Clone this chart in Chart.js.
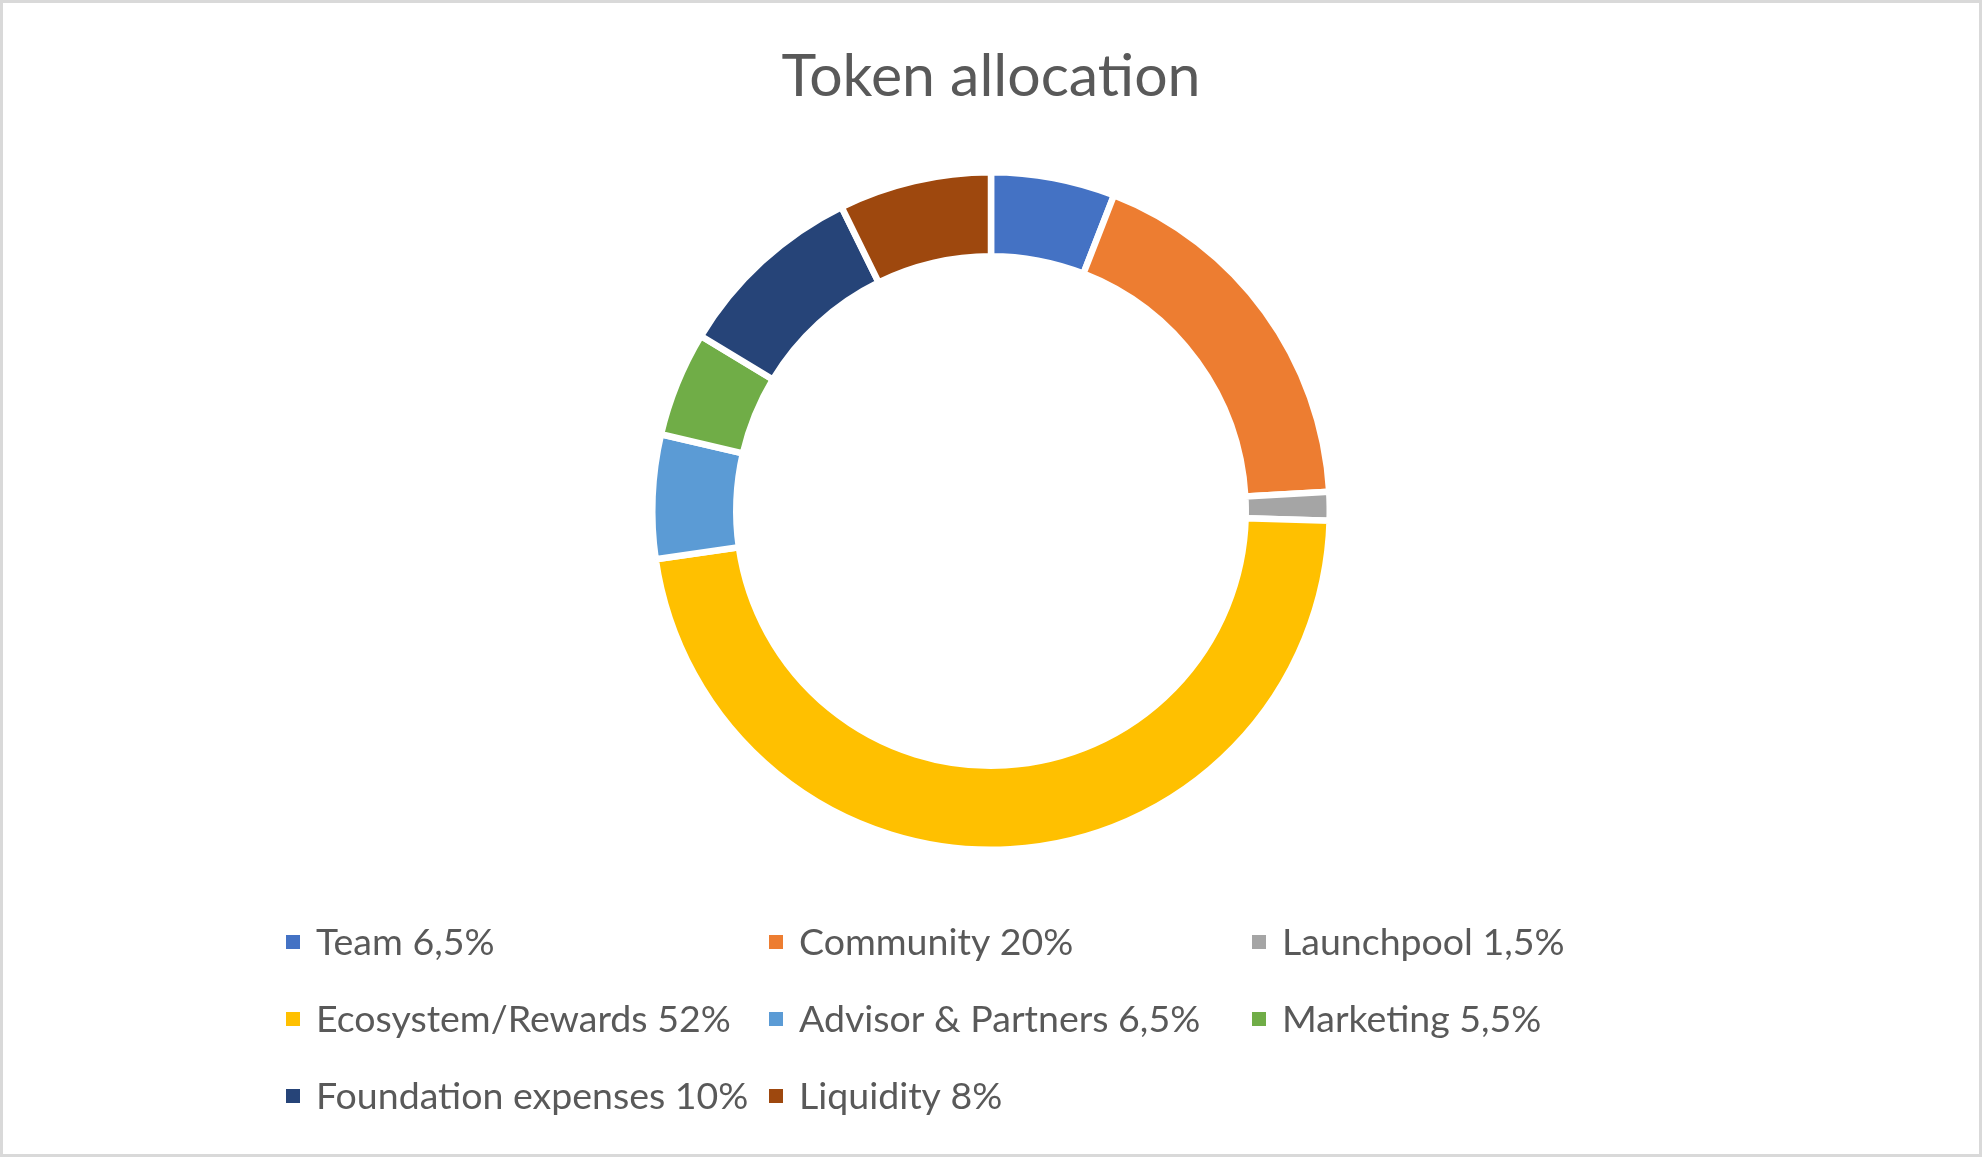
<!DOCTYPE html>
<html>
<head>
<meta charset="utf-8">
<script src="https://cdn.jsdelivr.net/npm/chart.js@4/dist/chart.umd.min.js"></script>
<style>
  html, body { margin: 0; padding: 0; background: #ffffff; }
  #wrap { position: relative; width: 1982px; height: 1157px; }
  canvas { display: block; }
</style>
</head>
<body>
<div id="wrap"><canvas id="c" width="1982" height="1157"></canvas></div>
<script>
// ---- data ----
const chartTitle = 'Token allocation';
const categories = ['Team', 'Community', 'Launchpool', 'Ecosystem/Rewards', 'Advisor & Partners', 'Marketing', 'Foundation expenses', 'Liquidity'];
const percentLabels = ['6,5%', '20%', '1,5%', '52%', '6,5%', '5,5%', '10%', '8%'];
const allocationValues = [6.5, 20, 1.5, 52, 6.5, 5.5, 10, 8];
const sliceColors = ['#4472C4', '#ED7D31', '#A5A5A5', '#FFC000', '#5B9BD5', '#70AD47', '#264478', '#9E480E'];

const legendLabels = categories.map((c, i) => c + ' ' + percentLabels[i]);

const TEXT_COLOR = '#595959';
const FONT_FAMILY = 'Lato, "Open Sans", sans-serif';

const framePlugin = {
  id: 'frameTitleLegend',
  beforeDraw(chart) {
    const ctx = chart.ctx;
    ctx.save();
    ctx.fillStyle = '#ffffff';
    ctx.fillRect(0, 0, chart.width, chart.height);
    ctx.strokeStyle = '#D9D9D9';
    ctx.lineWidth = 3;
    ctx.strokeRect(1.5, 1.5, chart.width - 3, chart.height - 3);
    ctx.restore();
  },
  afterDraw(chart) {
    const ctx = chart.ctx;
    ctx.save();
    // title
    ctx.fillStyle = TEXT_COLOR;
    ctx.font = '59px ' + FONT_FAMILY;
    ctx.textAlign = 'center';
    ctx.textBaseline = 'middle';
    ctx.fillText(chartTitle, chart.width / 2, 77);
    // legend grid
    const colX = [286, 769, 1252];
    const rowY = [942, 1019, 1096];
    const box = 14;
    ctx.font = '37.5px ' + FONT_FAMILY;
    ctx.textAlign = 'left';
    const colors = chart.data.datasets[0].backgroundColor;
    chart.data.labels.forEach((lab, i) => {
      const cx = colX[i % 3];
      const cy = rowY[Math.floor(i / 3)];
      ctx.fillStyle = colors[i];
      ctx.fillRect(cx, cy - box / 2, box, box);
      ctx.fillStyle = TEXT_COLOR;
      ctx.fillText(lab, cx + box + 16, cy + 1);
    });
    ctx.restore();
  }
};

new Chart(document.getElementById('c'), {
  type: 'doughnut',
  data: {
    labels: legendLabels,
    datasets: [{
      data: allocationValues,
      backgroundColor: sliceColors,
      borderColor: '#ffffff',
      borderWidth: 6.5,
      hoverOffset: 0
    }]
  },
  options: {
    responsive: false,
    animation: false,
    cutout: '75.2%',
    layout: { padding: { top: 169, bottom: 304, left: 0, right: 0 } },
    plugins: {
      legend: { display: false },
      title: { display: false },
      tooltip: { enabled: false }
    }
  },
  plugins: [framePlugin]
});
</script>
</body>
</html>
